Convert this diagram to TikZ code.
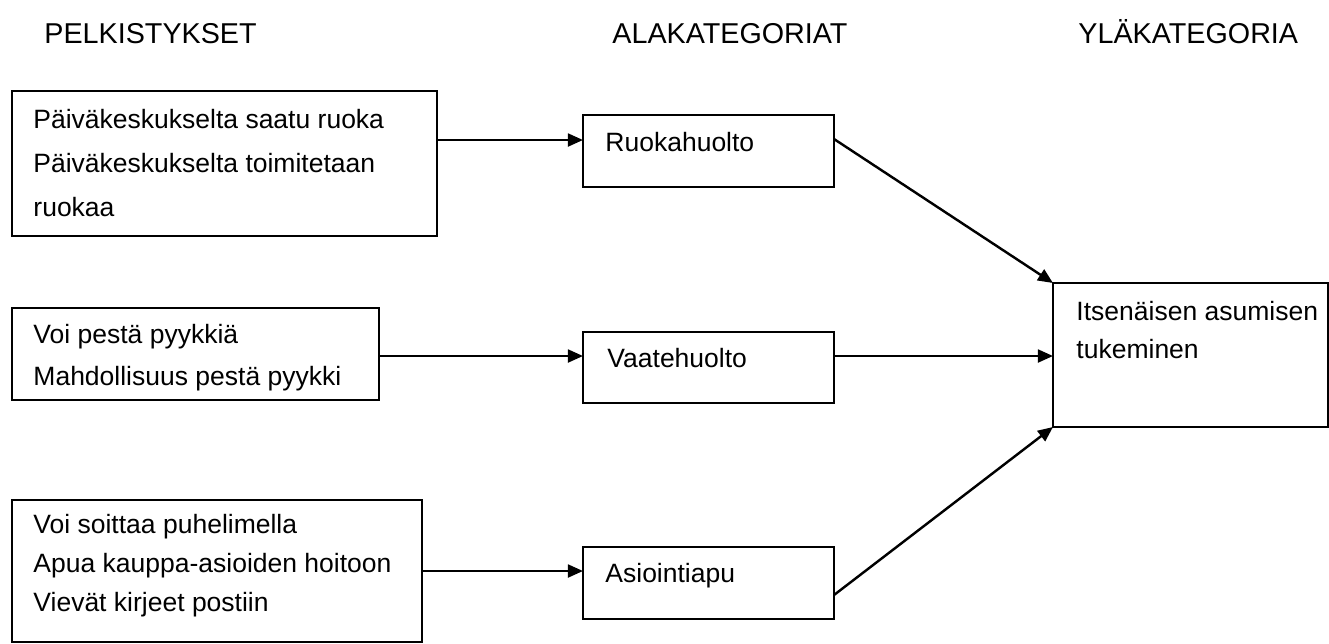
\documentclass[tikz,border=0pt]{standalone}
\usepackage{fontspec}
\setmainfont{Liberation Sans}
\usetikzlibrary{arrows.meta}
\newcommand\mkbox[5]{\node[box, minimum width={(#4-#2)*0.4528pt}, minimum height={(#5-#3)*0.4528pt}] (#1) at ({(#2+#4)/2},{(#3+#5)/2}) {};}
\begin{document}
\begin{tikzpicture}[x=0.4528pt,y=-0.4528pt,
  box/.style={draw, line width=0.85pt, inner sep=0pt, outer sep=0pt},
  txt/.style={anchor=base west, inner sep=0pt, font=\fontsize{12}{14}\selectfont},
  head/.style={anchor=base west, inner sep=0pt, font=\fontsize{13}{15}\selectfont},
  conn/.style={line width=1.1pt, -{Triangle[length=6.8pt,width=5.8pt]}}]
\useasboundingbox (0,0) rectangle (1329,643);
% headers
\node[head] (h1) at (44,43) {PELKISTYKSET};
\node[head] (h2) at (612,43) {ALAKATEGORIAT};
\node[head] (h3) at (1078,43) {YLÄKATEGORIA};
% boxes
\mkbox{b1}{12}{91}{437}{236}
\mkbox{b2}{12}{308}{379}{400}
\mkbox{b3}{12}{500}{422}{642}
\mkbox{r1}{583}{115}{834}{187}
\mkbox{r2}{583}{332}{834}{403}
\mkbox{r3}{583}{547}{834}{619}
\mkbox{big}{1053}{283}{1328}{427}
% texts
\node[txt] (t1a) at (33,128) {Päiväkeskukselta saatu ruoka};
\node[txt] (t1b) at (33,172) {Päiväkeskukselta toimitetaan};
\node[txt] (t1c) at (33,216) {ruokaa};
\node[txt] (t2a) at (33,343) {Voi pestä pyykkiä};
\node[txt] (t2b) at (33,385) {Mahdollisuus pestä pyykki};
\node[txt] (t3a) at (33,533) {Voi soittaa puhelimella};
\node[txt] (t3b) at (33,572) {Apua kauppa-asioiden hoitoon};
\node[txt] (t3c) at (33,611) {Vievät kirjeet postiin};
\node[txt] (tr1) at (605,151) {Ruokahuolto};
\node[txt] (tr2) at (607,367) {Vaatehuolto};
\node[txt] (tr3) at (605,582) {Asiointiapu};
\node[txt] (tba) at (1076,320) {Itsenäisen asumisen};
\node[txt] (tbb) at (1076,358) {tukeminen};
% connector levels
\coordinate (y1) at (0,140);
\coordinate (y2) at (0,356);
\coordinate (y3) at (0,571);
\coordinate (yr1) at (0,139);
\coordinate (yr3) at (0,595);
% connectors
\draw[conn] (b1.east |- y1) -- (r1.west |- y1);
\draw[conn] (b2.east |- y2) -- (r2.west |- y2);
\draw[conn] (b3.east |- y3) -- (r3.west |- y3);
\draw[conn] (r1.east |- yr1) -- (big.north west);
\draw[conn] (r2.east |- y2) -- (big.west |- y2);
\draw[conn] (r3.east |- yr3) -- (big.south west);
\end{tikzpicture}
\end{document}
